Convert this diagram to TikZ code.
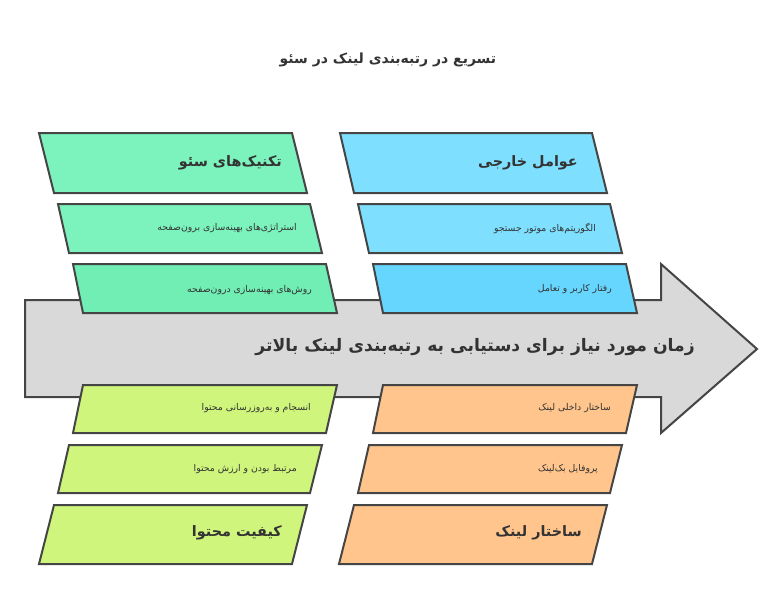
\documentclass[tikz,border=0pt]{standalone}
\usepackage{fontspec}
\newfontfamily\fa[Script=Arabic]{DejaVu Sans}
\TeXXeTstate=1
\newcommand{\rl}[1]{\beginR #1\endR}
\definecolor{edge}{HTML}{454545}
\definecolor{txt}{HTML}{333333}
\definecolor{arrowfill}{HTML}{D9D9D9}
\definecolor{gA}{HTML}{7CF2BC}
\definecolor{gB}{HTML}{70EEB4}
\definecolor{bA}{HTML}{7FDFFF}
\definecolor{bB}{HTML}{66D6FF}
\definecolor{lA}{HTML}{CFF57C}
\definecolor{oA}{HTML}{FFC58C}
\tikzset{
  box/.style={draw=edge, line width=2pt, line join=miter},
  tx/.style={anchor=east, inner sep=0pt, text=txt, font=\fa\fontsize{9.3}{11}\selectfont},
  hd/.style={anchor=east, inner sep=0pt, text=txt, font=\fa\bfseries\fontsize{14.4}{17}\selectfont},
}
\begin{document}
\begin{tikzpicture}[x=1pt,y=-1pt]
\useasboundingbox (0,0) rectangle (782,614);
% title
\node[inner sep=0pt, text=txt, font=\fa\bfseries\fontsize{14}{16}\selectfont] (title) at (388,60) {\rl{تسریع در رتبه‌بندی لینک در سئو}};
% arrow
\draw[box, fill=arrowfill] (25,300) -- (661,300) -- (661,264) -- (757,349) -- (661,433) -- (661,397) -- (25,397) -- cycle;
\node[anchor=east, inner sep=0pt, text=txt, font=\fa\bfseries\fontsize{17.2}{20}\selectfont] (axis) at (695,347) {\rl{زمان مورد نیاز برای دستیابی به رتبه‌بندی لینک بالاتر}};
% top-left column
\draw[box, fill=gA] (39,133) -- (292,133) -- (307,193) -- (54,193) -- cycle;
\draw[box, fill=gA] (58,204) -- (310,204) -- (322,253) -- (69,253) -- cycle;
\draw[box, fill=gB] (73,264) -- (326,264) -- (337,313) -- (83,313) -- cycle;
\node[hd] (tlh) at (282,163) {\rl{تکنیک‌های سئو}};
\node[tx] (tl1) at (297,228) {\rl{استراتژی‌های بهینه‌سازی برون‌صفحه}};
\node[tx] (tl2) at (312,290) {\rl{روش‌های بهینه‌سازی درون‌صفحه}};
% top-right column
\draw[box, fill=bA] (340,133) -- (592,133) -- (607,193) -- (354,193) -- cycle;
\draw[box, fill=bA] (358,204) -- (610,204) -- (622,253) -- (369,253) -- cycle;
\draw[box, fill=bB] (373,264) -- (626,264) -- (637,313) -- (383,313) -- cycle;
\node[hd] (trh) at (578,163) {\rl{عوامل خارجی}};
\node[tx] (tr1) at (596,228) {\rl{الگوریتم‌های موتور جستجو}};
\node[tx] (tr2) at (612,289) {\rl{رفتار کاربر و تعامل}};
% bottom-left column
\draw[box, fill=lA] (83,385) -- (337,385) -- (326,433) -- (73,433) -- cycle;
\draw[box, fill=lA] (69,445) -- (322,445) -- (310,493) -- (58,493) -- cycle;
\draw[box, fill=lA] (54,505) -- (307,505) -- (292,564) -- (39,564) -- cycle;
\node[tx] (bl1) at (311,408) {\rl{انسجام و به‌روزرسانی محتوا}};
\node[tx] (bl2) at (297,469) {\rl{مرتبط بودن و ارزش محتوا}};
\node[hd] (blh) at (282,533) {\rl{کیفیت محتوا}};
% bottom-right column
\draw[box, fill=oA] (383,385) -- (637,385) -- (626,433) -- (373,433) -- cycle;
\draw[box, fill=oA] (369,445) -- (622,445) -- (610,493) -- (358,493) -- cycle;
\draw[box, fill=oA] (354,505) -- (607,505) -- (592,564) -- (339,564) -- cycle;
\node[tx] (br1) at (611,408) {\rl{ساختار داخلی لینک}};
\node[tx] (br2) at (598,469) {\rl{پروفایل بک‌لینک}};
\node[hd] (brh) at (582,533) {\rl{ساختار لینک}};
\end{tikzpicture}
\end{document}
